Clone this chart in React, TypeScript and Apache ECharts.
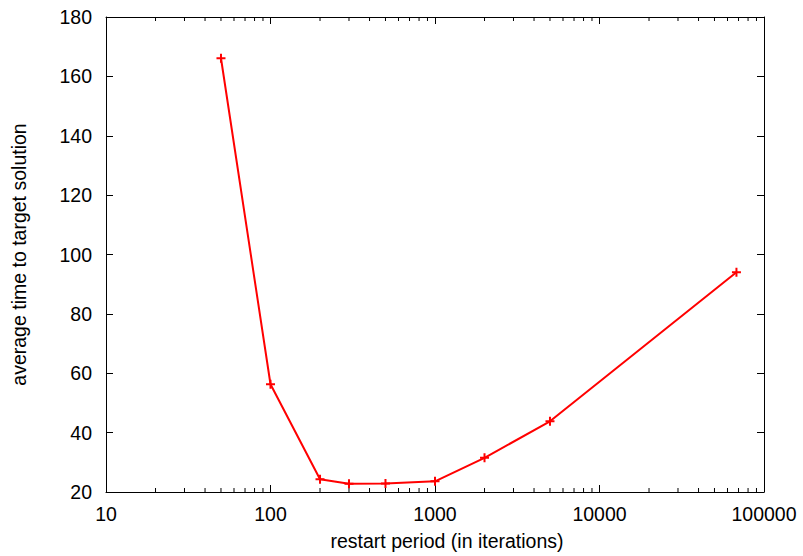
import React, { useEffect, useRef } from "react";
import * as echarts from "echarts";

const periods = [50, 100, 200, 300, 500, 1000, 2000, 5000, 68000];
const avgTimes = [166.1, 56.3, 24.3, 22.8, 22.9, 23.6, 31.5, 43.8, 94];
const minorTicks = [
  20, 30, 40, 50, 60, 70, 80, 90,
  200, 300, 400, 500, 600, 700, 800, 900,
  2000, 3000, 4000, 5000, 6000, 7000, 8000, 9000,
  20000, 30000, 40000, 50000, 60000, 70000, 80000, 90000,
];
const xMin = 10;
const xMax = 100000;
const yMin = 20;
const yMax = 180;
const yStep = 20;

const FONT = "'Liberation Sans', Arial, Helvetica, sans-serif";
const FS = 19.5;

export default function App() {
  const ref = useRef<HTMLDivElement>(null);
  useEffect(() => {
    if (!ref.current) return;
    const chart = echarts.init(ref.current, undefined, { renderer: "svg" });
    const axisLine = { show: true, lineStyle: { color: "#000", width: 1 } };
    chart.setOption({
      animation: false,
      backgroundColor: "#fff",
      textStyle: { fontFamily: FONT },
      grid: { left: 106, right: 39, top: 17, bottom: 64, containLabel: false },
      xAxis: [
        {
          type: "log",
          logBase: 10,
          min: xMin,
          max: xMax,
          position: "bottom",
          name: "restart period (in iterations)",
          nameLocation: "middle",
          nameGap: 39,
          nameTextStyle: {
            fontSize: FS,
            color: "#000",
            fontFamily: FONT,
            padding: [0, 0, 0, 24],
          },
          axisLine,
          axisTick: { show: true, inside: true, length: 7, lineStyle: { color: "#000" } },
          axisLabel: {
            fontSize: FS,
            color: "#000",
            margin: 12,
            fontFamily: FONT,
            formatter: (v: number) => String(Math.round(v)),
          },
          splitLine: { show: false },
          minorTick: { show: false },
        },
        {
          type: "log",
          logBase: 10,
          min: xMin,
          max: xMax,
          position: "top",
          axisLine,
          axisTick: { show: true, inside: true, length: 7, lineStyle: { color: "#000" } },
          axisLabel: { show: false },
          splitLine: { show: false },
        },
      ],
      yAxis: [
        {
          type: "value",
          min: yMin,
          max: yMax,
          interval: yStep,
          position: "left",
          name: "average time to target solution",
          nameLocation: "middle",
          nameGap: 77,
          nameTextStyle: { fontSize: FS, color: "#000", fontFamily: FONT },
          axisLine,
          axisTick: { show: true, inside: true, length: 7, lineStyle: { color: "#000" } },
          axisLabel: { fontSize: FS, color: "#000", margin: 14, fontFamily: FONT },
          splitLine: { show: false },
        },
        {
          type: "value",
          min: yMin,
          max: yMax,
          interval: yStep,
          position: "right",
          axisLine,
          axisTick: { show: true, inside: true, length: 7, lineStyle: { color: "#000" } },
          axisLabel: { show: false },
          splitLine: { show: false },
        },
      ],
      series: [
        {
          type: "custom",
          xAxisIndex: 0,
          yAxisIndex: 0,
          silent: true,
          clip: false,
          data: minorTicks.map((v) => [v, yMin]),
          encode: { x: 0, y: 1 },
          renderItem: (_params: any, api: any) => {
            const x = api.value(0);
            const b = api.coord([x, yMin]);
            const t = api.coord([x, yMax]);
            return {
              type: "group",
              children: [
                {
                  type: "line",
                  shape: { x1: b[0], y1: b[1], x2: b[0], y2: b[1] - 4 },
                  style: { stroke: "#000", lineWidth: 1 },
                },
                {
                  type: "line",
                  shape: { x1: t[0], y1: t[1], x2: t[0], y2: t[1] + 4 },
                  style: { stroke: "#000", lineWidth: 1 },
                },
              ],
            };
          },
        },
        {
          type: "line",
          xAxisIndex: 0,
          yAxisIndex: 0,
          data: periods.map((p, i) => [p, avgTimes[i]]),
          lineStyle: { color: "#ff0000", width: 2 },
          symbol: "path://M5,0 L5,10 M0,5 L10,5",
          symbolSize: 9,
          showSymbol: true,
          itemStyle: { color: "#ff0000", borderColor: "#ff0000", borderWidth: 2 },
        },
      ],
    });
    return () => chart.dispose();
  }, []);
  return (
    <div
      ref={ref}
      style={{ position: "absolute", left: 0, top: 0, width: 803, height: 556 }}
    />
  );
}
